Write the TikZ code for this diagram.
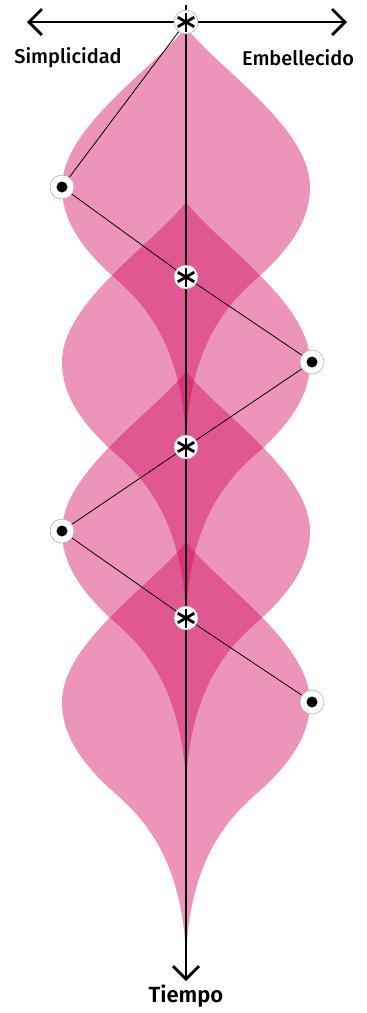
\documentclass[tikz,border=0pt]{standalone}
\usepackage{fontspec}
\setmainfont{Fira Sans}[UprightFont=* Medium, BoldFont=* SemiBold]
\usetikzlibrary{positioning,arrows.meta}
\definecolor{petalpink}{RGB}{210,1,91}

\begin{document}
\begin{tikzpicture}[x=1pt, y=-1pt, font=\fontsize{20}{23}\selectfont,
  >={Straight Barb[length=13pt,width=26pt]},
  petal/.style={fill=petalpink, fill opacity=0.42},
  axis/.style={line width=2.8pt},
  link/.style={line width=0.8pt},
  ring/.style={circle, draw=black!30, line width=0.6pt, fill=white,
    minimum size=24pt, inner sep=0pt},
  point/.style={ring, path picture={
    \fill[black] (path picture bounding box.center) circle (5.5pt);}},
  star/.style={ring, path picture={
    \foreach \a in {90,30,150}
      \draw[black, line width=2.8pt, shift={(path picture bounding box.center)}]
        (\a:9.5) -- (\a+180:9.5);}}]
  \useasboundingbox (0,0) rectangle (367,1013);
  % petals along the time axis
  \foreach \t in {27,202,371,542}
    \fill[petal, shift={(186,\t)}] (0,0)
      .. controls (30,40) and (124,100) .. (124,160)
      .. controls (124,195) and (102,222) .. (78,245)
      .. controls (52,268) and (5,305) .. (0,413)
      .. controls (-5,305) and (-52,268) .. (-78,245)
      .. controls (-102,222) and (-124,195) .. (-124,160)
      .. controls (-124,100) and (-30,40) .. (0,0) -- cycle;
  \coordinate (left)   at (27,22);
  \coordinate (right)  at (347,22);
  \coordinate (top)    at (186,5);
  \coordinate (bottom) at (186,981);
  \draw[axis, <->] (left) -- (right);
  \draw[axis, ->]  (top) -- (bottom);
  \node[star]  (s0) at (186,22)  {};
  \node[star]  (s1) at (186,277) {};
  \node[star]  (s2) at (186,447) {};
  \node[star]  (s3) at (186,618) {};
  \node[point] (p1) at (62,187)  {};
  \node[point] (p2) at (312,362) {};
  \node[point] (p3) at (62,531)  {};
  \node[point] (p4) at (312,702) {};
  \draw[link] (s0) -- (p1) -- (s1) -- (p2) -- (s2) -- (p3) -- (s3) -- (p4);
  \node (simp) at (68,58)  {Simplicidad};
  \node (embe) at (298,58) {Embellecido};
  \node[below=0pt of bottom, font=\fontsize{22}{25}\selectfont\bfseries] (time) {Tiempo};
\end{tikzpicture}
\end{document}
